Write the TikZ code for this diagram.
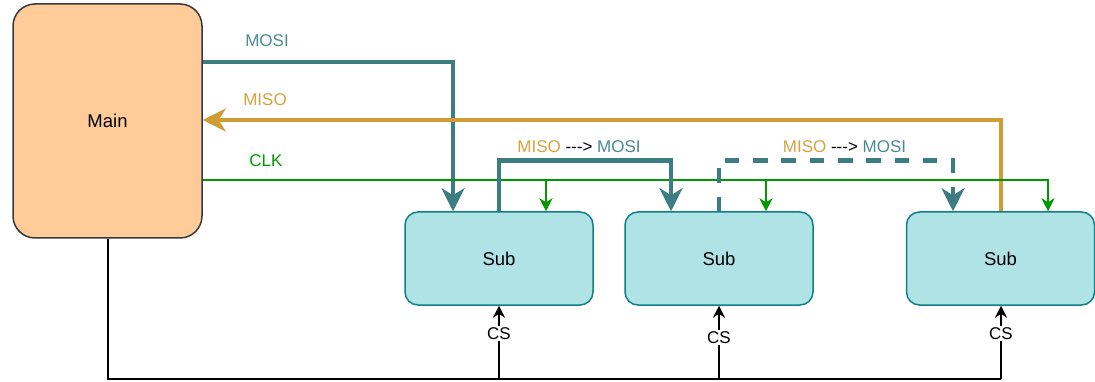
\documentclass[tikz,border=0pt]{standalone}
\usepackage{fontspec}
\setmainfont{Liberation Sans}
\usetikzlibrary{arrows.meta}
\definecolor{mainfill}{HTML}{FFCC99}
\definecolor{mainline}{HTML}{36393D}
\definecolor{subfill}{HTML}{B0E3E6}
\definecolor{subline}{HTML}{0E8088}
\definecolor{teal}{HTML}{3C7D84}
\definecolor{tealtxt}{HTML}{4A8A91}
\definecolor{gold}{HTML}{D09C36}
\definecolor{goldtxt}{HTML}{D6A23F}
\definecolor{clkgreen}{HTML}{009900}
\tikzset{
  txt/.style={font=\fontsize{17}{20}\selectfont},
  boxtxt/.style={font=\fontsize{18.5}{21}\selectfont},
  mainbox/.style={draw=mainline, fill=mainfill, line width=1.5pt, rounded corners=22pt,
    minimum width=189pt, minimum height=234pt, inner sep=0pt, boxtxt},
  subbox/.style={draw=subline, fill=subfill, line width=1.5pt, rounded corners=13pt,
    minimum width=188pt, minimum height=93pt, inner sep=0pt, boxtxt},
  bigtip/.style={-{Stealth[length=23pt,width=23pt,inset=7pt]}},
  mosi/.style={draw=teal, line width=4.5pt, bigtip},
  miso/.style={draw=gold, line width=4.5pt, bigtip},
  clk/.style={draw=clkgreen, line width=1.6pt, -{Stealth[length=13pt,width=13pt,inset=4pt]}},
  csline/.style={draw=black, line width=2pt},
  csarrow/.style={draw=black, line width=1.5pt, -{Stealth[length=12pt,width=12pt,inset=4pt]}},
  cslabel/.style={fill=white, inner sep=1.5pt, txt},
  lbl/.style={txt, inner sep=0pt},
}
\begin{document}
\begin{tikzpicture}[x=1pt,y=-1pt]
\useasboundingbox (0,0) rectangle (1095,382);
\node[mainbox] (main) at (107.5,121) {Main};
\node[subbox] (s1) at (499,258.5) {Sub};
\node[subbox] (s2) at (719,258.5) {Sub};
\node[subbox] (s3) at (1000.5,258.5) {Sub};

% MOSI
\draw[mosi] (main.east |- 0,62) -| ([xshift=-46pt]s1.north);
\node[lbl, text=tealtxt] (lmosi) at (267,41) {MOSI};
% MISO
\draw[miso] ([xshift=0.5pt]s3.north) |- (main.east |- 0,120);
\node[lbl, text=goldtxt] (lmiso) at (265,99.5) {MISO};
% CLK
\draw[clk] (main.east |- 0,180) -| ([xshift=47.5pt]s3.north);
\draw[clk] ([xshift=47pt]s1.north |- 0,180) -- ([xshift=47pt]s1.north);
\draw[clk] ([xshift=47pt]s2.north |- 0,180) -- ([xshift=47pt]s2.north);
\node[lbl, text=clkgreen] (lclk) at (266,161) {CLK};

% MISO ---> MOSI (solid)
\draw[mosi] (s1.north) |- (671,160.5) -- ([xshift=-48pt]s2.north);
\node[lbl] (l1) at (579,146.5) {\textcolor{goldtxt}{MISO} {-}{-}{-}> \textcolor{tealtxt}{MOSI}};
% MISO ---> MOSI (dashed)
\draw[mosi, dash pattern=on 14.5pt off 13.8pt] (s2.north) |- (953,160.5) -- ([xshift=-47.5pt]s3.north);
\node[lbl] (l2) at (844.5,146.5) {\textcolor{goldtxt}{MISO} {-}{-}{-}> \textcolor{tealtxt}{MOSI}};

% CS
\coordinate (csend) at ([xshift=0.5pt]s3.south |- 0,379);
\draw[csline] (main.south) |- (csend);
\draw[csarrow] (s1.south |- 0,379) -- node[cslabel, pos=0.62] {CS} (s1.south);
\draw[csarrow] (s2.south |- 0,379) -- node[cslabel, pos=0.57] {CS} (s2.south);
\draw[csarrow] (csend) -- node[cslabel, pos=0.62] {CS} ([xshift=0.5pt]s3.south);
\end{tikzpicture}
\end{document}
